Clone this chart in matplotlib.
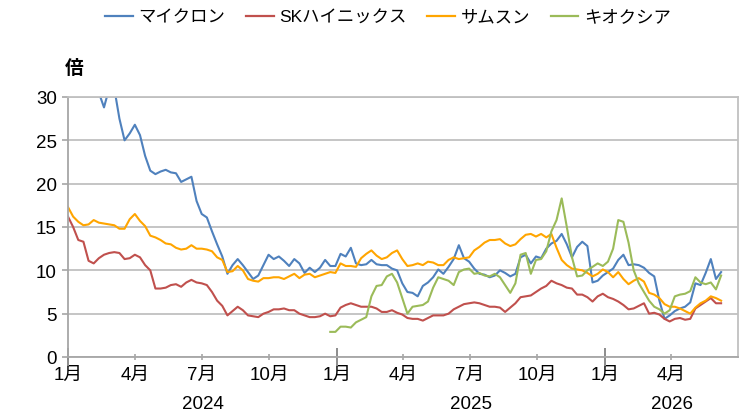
import matplotlib
matplotlib.use("Agg")
import matplotlib.pyplot as plt
import matplotlib.transforms as mtransforms
import pandas as pd

plt.rcParams['font.family'] = ['Liberation Sans', 'Noto Sans CJK JP']

# ---------------- data ----------------
series_names = ["マイクロン", "SKハイニックス", "サムスン", "キオクシア"]
series_colors = ["#4F81BD", "#C0504D", "#FFA500", "#9BBB59"]

start_main = "2024-01-01"      # weekly observations
start_kioxia = "2024-12-23"    # Kioxia listed in Dec 2024

micron = [36, 35.5, 35, 34, 33, 32, 30.5, 28.8, 31, 31,
          27.5, 25.0, 25.8, 26.8, 25.6, 23.2, 21.5, 21.1, 21.4, 21.6,
          21.3, 21.2, 20.2, 20.5, 20.8, 18.0, 16.5, 16.1, 14.5, 13.0,
          11.6, 9.6, 10.6, 11.3, 10.6, 9.8, 9.0, 9.4, 10.6, 11.8,
          11.3, 11.6, 11.1, 10.5, 11.3, 10.8, 9.7, 10.3, 9.8, 10.3,
          11.2, 10.5, 10.5, 11.9, 11.6, 12.6, 10.8, 10.6, 10.7, 11.2,
          10.7, 10.6, 10.6, 10.2, 10.0, 8.5, 7.5, 7.4, 7.0, 8.2,
          8.6, 9.2, 10.1, 9.6, 10.4, 11.3, 12.9, 11.4, 11.0, 10.2,
          9.6, 9.5, 9.2, 9.4, 10.0, 9.7, 9.3, 9.6, 11.5, 11.8,
          10.8, 11.6, 11.4, 12.5, 13.1, 13.4, 14.2, 13.0, 11.5, 12.7,
          13.3, 12.8, 8.6, 8.8, 9.4, 9.8, 10.2, 11.2, 11.8, 10.6,
          10.7, 10.6, 10.3, 9.7, 9.3, 6.5, 4.4, 4.8, 5.3, 5.6,
          5.8, 6.3, 8.5, 8.3, 9.7, 11.3, 9.0, 9.8]

sk_hynix = [16.2, 15.0, 13.5, 13.3, 11.1, 10.8, 11.4, 11.8, 12.0, 12.1,
            12.0, 11.3, 11.4, 11.8, 11.5, 10.6, 10.0, 7.9, 7.9, 8.0,
            8.3, 8.4, 8.1, 8.6, 8.9, 8.6, 8.5, 8.3, 7.5, 6.5,
            5.9, 4.8, 5.3, 5.8, 5.4, 4.8, 4.7, 4.6, 5.0, 5.2,
            5.5, 5.5, 5.6, 5.4, 5.4, 5.0, 4.8, 4.6, 4.6, 4.7,
            5.0, 4.7, 4.8, 5.7, 6.0, 6.2, 6.0, 5.8, 5.8, 5.8,
            5.6, 5.2, 5.2, 5.4, 5.1, 4.9, 4.5, 4.4, 4.4, 4.2,
            4.5, 4.8, 4.8, 4.8, 5.0, 5.5, 5.8, 6.1, 6.2, 6.3,
            6.2, 6.0, 5.8, 5.8, 5.7, 5.2, 5.7, 6.2, 6.9, 7.0,
            7.1, 7.5, 7.9, 8.2, 8.8, 8.5, 8.3, 8.0, 7.9, 7.2,
            7.2, 6.9, 6.4, 7.0, 7.3, 6.9, 6.7, 6.4, 6.0, 5.5,
            5.6, 5.9, 6.2, 5.0, 5.1, 4.9, 4.4, 4.1, 4.4, 4.5,
            4.3, 4.4, 5.6, 6.0, 6.4, 6.8, 6.2, 6.2]

samsung = [17.3, 16.2, 15.6, 15.2, 15.3, 15.8, 15.5, 15.4, 15.3, 15.2,
           14.8, 14.8, 15.9, 16.5, 15.7, 15.1, 14.0, 13.8, 13.5, 13.1,
           13.0, 12.6, 12.4, 12.5, 12.9, 12.5, 12.5, 12.4, 12.2, 11.5,
           11.2, 9.8, 9.9, 10.5, 10.0, 9.0, 8.8, 8.7, 9.1, 9.1,
           9.2, 9.2, 9.0, 9.3, 9.6, 9.1, 9.5, 9.6, 9.2, 9.4,
           9.6, 9.8, 9.7, 10.8, 10.5, 10.5, 10.4, 11.4, 11.9, 12.3,
           11.7, 11.3, 11.5, 12.0, 12.3, 11.3, 10.5, 10.6, 10.8, 10.6,
           11.0, 10.9, 10.6, 10.6, 11.2, 11.5, 11.3, 11.4, 11.5, 12.3,
           12.7, 13.2, 13.5, 13.5, 13.6, 13.1, 12.8, 13.0, 13.6, 14.1,
           14.2, 13.9, 14.2, 13.8, 14.2, 12.6, 11.2, 10.6, 10.2, 10.1,
           10.0, 9.7, 9.3, 9.6, 10.1, 9.8, 9.2, 9.8, 9.0, 8.4,
           8.8, 9.1, 8.7, 7.4, 7.2, 6.8, 6.1, 5.8, 5.8, 5.6,
           5.3, 5.0, 5.7, 6.2, 6.5, 7.0, 6.8, 6.5]

kioxia = [2.9, 2.9, 3.5, 3.5, 3.4, 4.0, 4.3, 4.6, 7.0,
          8.2, 8.3, 9.3, 9.6, 8.6, 6.8, 5.0, 5.8, 5.9, 6.0,
          6.4, 8.0, 9.2, 9.0, 8.8, 8.3, 9.8, 10.1, 10.2, 9.6,
          9.7, 9.4, 9.3, 9.6, 9.2, 8.3, 7.4, 8.5, 11.8, 12.0,
          9.6, 11.2, 11.3, 12.2, 14.5, 15.8, 18.3, 15.0, 11.5, 9.3,
          9.4, 10.0, 10.4, 10.8, 10.5, 11.0, 12.5, 15.8, 15.6, 13.2,
          10.0, 8.5, 7.5, 6.5, 5.8, 5.5, 5.0, 5.4, 7.0, 7.2,
          7.3, 7.6, 9.2, 8.6, 8.4, 8.6, 7.8, 9.4]

quarter_ticks = ["2024-01-01", "2024-04-01", "2024-07-01", "2024-10-01",
                 "2025-01-01", "2025-04-01", "2025-07-01", "2025-10-01",
                 "2026-01-01", "2026-04-01"]
quarter_labels = ["1月", "4月", "7月", "10月", "1月", "4月", "7月", "10月", "1月", "4月"]
year_starts = ["2024-01-01", "2025-01-01", "2026-01-01", "2027-01-01"]
year_labels = ["2024", "2025", "2026"]
y_ticks = [0, 5, 10, 15, 20, 25, 30]
x_range = ["2024-01-01", "2026-07-01"]
unit_label = "倍"

# ---------------- figure ----------------
W, H = 743, 414
fig = plt.figure(figsize=(W / 100, H / 100), dpi=100)
ax = fig.add_axes([68 / W, 1 - 358 / H, 670 / W, 260 / H])

dates_main = pd.date_range(start_main, periods=len(micron), freq="7D")
dates_kx = pd.date_range(start_kioxia, periods=len(kioxia), freq="7D")
all_series = [(dates_main, micron), (dates_main, sk_hynix),
              (dates_main, samsung), (dates_kx, kioxia)]

for (d, v), name, c in zip(all_series, series_names, series_colors):
    ax.plot(d, v, color=c, lw=1.5, label=name, solid_joinstyle="round")

xmin, xmax = pd.Timestamp(x_range[0]), pd.Timestamp(x_range[1])
ax.set_xlim(xmin, xmax)
ax.set_ylim(0, 30)

grid_c = "#c0c0c0"
ax.set_yticks(y_ticks)
ax.yaxis.grid(True, color=grid_c, lw=1.3)
ax.set_axisbelow(True)
for s in ax.spines.values():
    s.set_color(grid_c)
    s.set_linewidth(1.3)
ax.spines["left"].set_color("#a6a6a6")
ax.spines["bottom"].set_color("#a6a6a6")

ax.tick_params(axis="y", direction="out", length=4, width=1.2, color="#a6a6a6",
               labelsize=13.5, pad=4, labelcolor="black")

qt = [pd.Timestamp(t) for t in quarter_ticks]
ax.set_xticks(qt)
ax.set_xticklabels(quarter_labels)
ax.tick_params(axis="x", which="major", direction="inout", length=4.5, width=1.2,
               color="#a6a6a6", labelsize=13.5, pad=4.5, labelcolor="black")
ax.xaxis.remove_overlapping_locs = False
jan = [t for t in qt if t.month == 1]
ax.set_xticks(jan, minor=True)
ax.tick_params(axis="x", which="minor", direction="inout", length=13, width=1.4,
               color="#8c8c8c")

# year labels, centered on each year's visible span
trans = mtransforms.blended_transform_factory(ax.transData, fig.transFigure)
for i, lab in enumerate(year_labels):
    a = max(pd.Timestamp(year_starts[i]), xmin)
    b = min(pd.Timestamp(year_starts[i + 1]), xmax)
    mid = a + (b - a) / 2
    ax.text(mid, 1 - 405 / H, lab, transform=trans, ha="center", va="center",
            fontsize=13.5, color="black")

fig.text(74 / W, 1 - 69 / H, unit_label, ha="center", va="center",
         fontsize=13.5, fontweight="bold", color="black")

leg = fig.legend(loc="center", bbox_to_anchor=(388 / W, 1 - 18 / H), ncol=4,
                 frameon=False, fontsize=12.5, handlelength=1.6,
                 handletextpad=0.3, columnspacing=1.2)
for line in leg.get_lines():
    line.set_linewidth(1.6)

fig.savefig("out.png", dpi=100)
